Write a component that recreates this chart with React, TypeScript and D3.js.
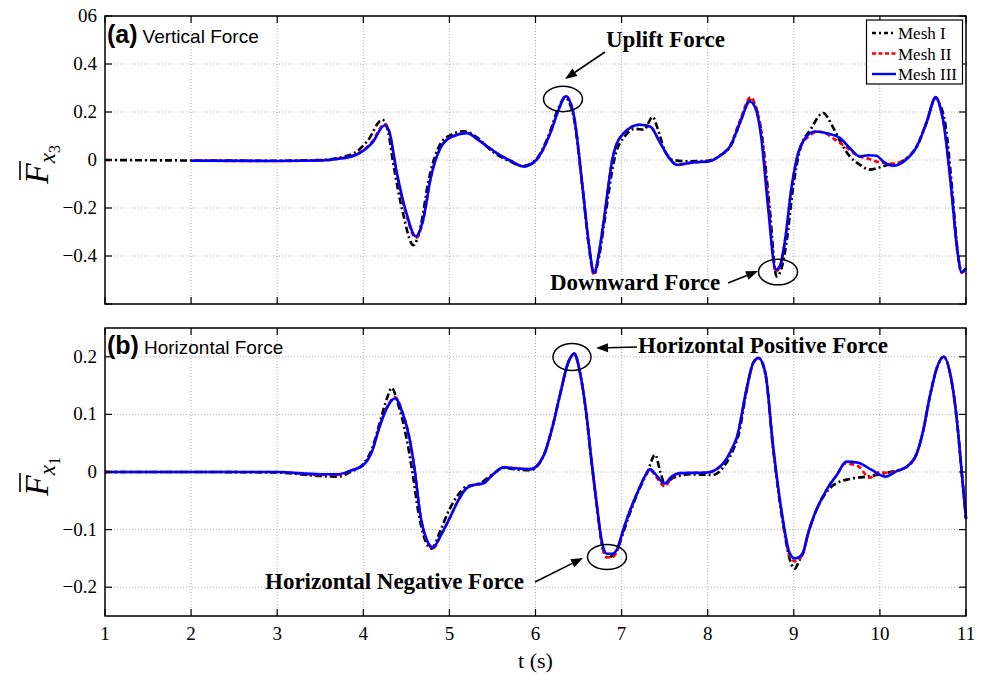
import React from 'react';
import * as d3 from 'd3';

// ---------- data ----------
const xTickValues = [1, 2, 3, 4, 5, 6, 7, 8, 9, 10, 11];
const yTicksA = [-0.6, -0.4, -0.2, 0, 0.2, 0.4, 0.6];
const yTickLabelsA = ['', '\u22120.4', '\u22120.2', '0', '0.2', '0.4', '06'];
const yTicksB = [-0.2, -0.1, 0, 0.1, 0.2];
const yTickLabelsB = ['\u22120.2', '\u22120.1', '0', '0.1', '0.2'];
const seriesNames = ['Mesh I', 'Mesh II', 'Mesh III'];

// Panel (a) vertical force
const vertMeshI: [number, number][] = [
  [1, 0], [2, -0.002], [3, -0.003], [3.5, 0], [3.7, 0.008], [3.9, 0.03], [4.05, 0.08], [4.22, 0.168],
  [4.28, 0.13], [4.36, -0.04], [4.46, -0.22], [4.58, -0.355], [4.67, -0.27], [4.75, -0.1], [4.9, 0.07],
  [5.02, 0.105], [5.17, 0.12], [5.3, 0.1], [5.5, 0.035], [5.7, -0.005], [5.85, -0.025], [6.0, 0.0],
  [6.15, 0.1], [6.27, 0.22], [6.34, 0.26], [6.43, 0.2], [6.55, -0.13], [6.62, -0.36], [6.68, -0.475],
  [6.74, -0.4], [6.8, -0.26], [6.92, 0.01], [7.04, 0.1], [7.16, 0.13], [7.26, 0.126], [7.36, 0.18],
  [7.42, 0.13], [7.5, 0.04], [7.6, 0.0], [7.75, -0.005], [8.0, -0.003], [8.15, 0.02], [8.27, 0.06],
  [8.38, 0.16], [8.49, 0.25], [8.56, 0.22], [8.63, 0.1], [8.72, -0.2], [8.8, -0.485], [8.85, -0.46],
  [8.92, -0.33], [8.99, -0.12], [9.07, 0.04], [9.2, 0.13], [9.34, 0.196], [9.45, 0.14], [9.55, 0.07],
  [9.65, 0.015], [9.77, -0.02], [9.88, -0.04], [10.0, -0.03], [10.1, -0.02], [10.2, -0.015], [10.3, 0.005],
  [10.43, 0.057], [10.54, 0.154], [10.65, 0.26], [10.7, 0.23], [10.76, 0.15], [10.84, -0.124], [10.9, -0.37],
  [10.95, -0.468], [11.0, -0.45],
];
const vertMeshII: [number, number][] = [
  [2.0, -0.003], [3.0, -0.004], [3.5, -0.002], [3.7, 0.005], [3.92, 0.024], [4.1, 0.075], [4.25, 0.15],
  [4.3, 0.12], [4.39, -0.06], [4.5, -0.23], [4.61, -0.325], [4.7, -0.245], [4.78, -0.08], [4.93, 0.07],
  [5.05, 0.1], [5.2, 0.114], [5.35, 0.08], [5.55, 0.029], [5.72, -0.005], [5.86, -0.027], [6.01, 0.0],
  [6.17, 0.11], [6.28, 0.22], [6.35, 0.268], [6.44, 0.196], [6.55, -0.124], [6.62, -0.355], [6.68, -0.48],
  [6.74, -0.385], [6.79, -0.26], [6.9, 0.015], [7.02, 0.11], [7.21, 0.147], [7.33, 0.14], [7.45, 0.07],
  [7.55, 0.01], [7.64, -0.02], [7.83, -0.01], [8.01, -0.006], [8.15, 0.02], [8.26, 0.06], [8.38, 0.17],
  [8.5, 0.262], [8.56, 0.22], [8.63, 0.1], [8.71, -0.2], [8.79, -0.465], [8.84, -0.445], [8.9, -0.33],
  [8.97, -0.124], [9.05, 0.025], [9.13, 0.085], [9.3, 0.118], [9.5, 0.08], [9.62, 0.05], [9.73, 0.02],
  [9.87, 0.005], [10.0, -0.01], [10.155, -0.015], [10.3, 0.005], [10.43, 0.06], [10.54, 0.156],
  [10.65, 0.262], [10.7, 0.22], [10.74, 0.154], [10.83, -0.124], [10.9, -0.38], [10.95, -0.47], [11.0, -0.45],
];
const vertMeshIII: [number, number][] = [
  [2.0, -0.003], [3.0, -0.004], [3.5, -0.002], [3.7, 0.004], [3.92, 0.022], [4.1, 0.07], [4.25, 0.145],
  [4.3, 0.12], [4.39, -0.054], [4.5, -0.22], [4.61, -0.318], [4.7, -0.24], [4.78, -0.08], [4.93, 0.07],
  [5.05, 0.1], [5.2, 0.112], [5.35, 0.08], [5.55, 0.029], [5.72, -0.005], [5.86, -0.027], [6.01, 0.0],
  [6.17, 0.11], [6.28, 0.22], [6.35, 0.265], [6.44, 0.196], [6.55, -0.124], [6.62, -0.35], [6.68, -0.47],
  [6.74, -0.38], [6.79, -0.26], [6.9, 0.015], [7.02, 0.11], [7.21, 0.147], [7.33, 0.14], [7.45, 0.07],
  [7.55, 0.01], [7.64, -0.02], [7.83, -0.01], [8.01, -0.006], [8.15, 0.02], [8.26, 0.057], [8.38, 0.16],
  [8.49, 0.244], [8.55, 0.22], [8.62, 0.1], [8.7, -0.193], [8.79, -0.457], [8.84, -0.44], [8.9, -0.33],
  [8.97, -0.124], [9.05, 0.029], [9.13, 0.09], [9.245, 0.119], [9.4, 0.11], [9.535, 0.092], [9.65, 0.05],
  [9.77, 0.015], [9.87, 0.02], [9.96, 0.018], [10.05, -0.01], [10.155, -0.024], [10.3, 0.0], [10.43, 0.057],
  [10.54, 0.154], [10.65, 0.262], [10.7, 0.22], [10.74, 0.154], [10.83, -0.124], [10.9, -0.38],
  [10.95, -0.468], [11.0, -0.45],
];

// Panel (b) horizontal force
const horzMeshI: [number, number][] = [
  [1, 0], [2, 0], [3, -0.001], [3.5, -0.007], [3.7, -0.008], [3.85, 0.0], [4.0, 0.014], [4.1, 0.04],
  [4.19, 0.085], [4.28, 0.13], [4.33, 0.146], [4.4, 0.12], [4.5, 0.06], [4.57, 0.0], [4.64, -0.07],
  [4.71, -0.115], [4.79, -0.133], [4.9, -0.1], [5.0, -0.065], [5.1, -0.04], [5.2, -0.025], [5.35, -0.02],
  [5.5, -0.004], [5.63, 0.007], [5.8, 0.004], [5.94, 0.003], [6.09, 0.027], [6.2, 0.08], [6.28, 0.131],
  [6.38, 0.19], [6.45, 0.204], [6.52, 0.17], [6.59, 0.1], [6.65, 0.018], [6.71, -0.056], [6.77, -0.125],
  [6.83, -0.148], [6.89, -0.146], [6.94, -0.138], [7.02, -0.105], [7.1, -0.07], [7.2, -0.032], [7.3, 0.0],
  [7.39, 0.03], [7.45, 0.0], [7.5, -0.02], [7.6, -0.01], [7.8, -0.004], [8.06, -0.005], [8.2, 0.012],
  [8.3, 0.04], [8.36, 0.065], [8.45, 0.14], [8.53, 0.19], [8.59, 0.198], [8.67, 0.17], [8.76, 0.04],
  [8.88, -0.095], [8.95, -0.15], [9.01, -0.168], [9.06, -0.155], [9.11, -0.14], [9.16, -0.11], [9.23, -0.078],
  [9.38, -0.035], [9.45, -0.024], [9.65, -0.012], [9.85, -0.008], [10.12, 0.0], [10.31, 0.009],
  [10.43, 0.033], [10.5, 0.07], [10.58, 0.131], [10.66, 0.18], [10.74, 0.2], [10.83, 0.16], [10.89, 0.096],
  [10.95, 0.0], [11.0, -0.081],
];
const horzMeshII: [number, number][] = [
  [1, 0], [2, 0], [3, 0.0], [3.5, -0.005], [3.7, -0.005], [3.85, 0.002], [4.0, 0.012], [4.1, 0.036],
  [4.19, 0.08], [4.3, 0.12], [4.37, 0.13], [4.45, 0.106], [4.54, 0.056], [4.6, 0.0], [4.66, -0.072],
  [4.73, -0.117], [4.81, -0.133], [4.9, -0.11], [5.01, -0.078], [5.1, -0.05], [5.2, -0.028], [5.3, -0.022],
  [5.39, -0.02], [5.5, -0.005], [5.63, 0.008], [5.8, 0.006], [5.94, 0.005], [6.09, 0.027], [6.2, 0.08],
  [6.28, 0.131], [6.38, 0.19], [6.45, 0.205], [6.52, 0.17], [6.59, 0.102], [6.65, 0.02], [6.71, -0.056],
  [6.77, -0.125], [6.83, -0.148], [6.89, -0.148], [6.94, -0.14], [7.02, -0.1], [7.1, -0.066], [7.2, -0.03],
  [7.28, -0.005], [7.33, 0.003], [7.4, -0.008], [7.5, -0.025], [7.58, -0.01], [7.68, -0.002], [7.99, -0.001],
  [8.18, 0.015], [8.28, 0.04], [8.34, 0.061], [8.45, 0.143], [8.53, 0.19], [8.59, 0.198], [8.67, 0.172],
  [8.76, 0.044], [8.88, -0.09], [8.95, -0.145], [9.01, -0.155], [9.06, -0.152], [9.11, -0.14],
  [9.16, -0.11], [9.23, -0.078], [9.38, -0.031], [9.5, -0.005], [9.6, 0.015], [9.75, 0.01], [9.88, -0.01],
  [10.0, 0.0], [10.1, -0.002], [10.2, 0.002], [10.31, 0.009], [10.43, 0.033], [10.5, 0.07], [10.58, 0.131],
  [10.66, 0.18], [10.74, 0.2], [10.83, 0.16], [10.89, 0.096], [10.95, 0.0], [11.0, -0.081],
];
const horzMeshIII: [number, number][] = [
  [1, 0], [2, 0], [3, 0.0], [3.5, -0.004], [3.7, -0.004], [3.85, 0.002], [4.0, 0.012], [4.1, 0.035],
  [4.19, 0.079], [4.3, 0.118], [4.37, 0.128], [4.45, 0.105], [4.54, 0.056], [4.6, 0.0], [4.66, -0.072],
  [4.73, -0.115], [4.81, -0.131], [4.9, -0.11], [5.01, -0.078], [5.1, -0.05], [5.2, -0.028], [5.3, -0.022],
  [5.39, -0.02], [5.5, -0.005], [5.63, 0.008], [5.8, 0.006], [5.94, 0.005], [6.09, 0.027], [6.2, 0.08],
  [6.28, 0.131], [6.38, 0.19], [6.45, 0.206], [6.52, 0.17], [6.59, 0.102], [6.65, 0.02], [6.71, -0.054],
  [6.77, -0.12], [6.83, -0.142], [6.89, -0.142], [6.94, -0.136], [7.02, -0.1], [7.1, -0.066], [7.2, -0.03],
  [7.28, -0.005], [7.33, 0.005], [7.4, -0.005], [7.5, -0.02], [7.58, -0.008], [7.68, -0.002], [7.99, -0.001],
  [8.18, 0.015], [8.28, 0.04], [8.34, 0.061], [8.45, 0.143], [8.53, 0.19], [8.59, 0.198], [8.67, 0.172],
  [8.76, 0.044], [8.88, -0.089], [8.95, -0.14], [9.01, -0.15], [9.06, -0.148], [9.11, -0.139],
  [9.16, -0.11], [9.23, -0.078], [9.38, -0.031], [9.5, -0.005], [9.61, 0.018], [9.75, 0.016], [9.9, 0.004],
  [10.06, -0.008], [10.2, 0.002], [10.31, 0.009], [10.43, 0.033], [10.5, 0.07], [10.58, 0.131],
  [10.66, 0.18], [10.74, 0.2], [10.83, 0.16], [10.89, 0.096], [10.95, 0.0], [11.0, -0.081],
];

// ---------- layout ----------
const W = 987, H = 676;
const X0 = 105, X1 = 966;
const PA = { top: 16, bottom: 304 };
const PB = { top: 328, bottom: 616 };
const SERIF = '"Liberation Serif", "Times New Roman", serif';
const SANS = '"Liberation Sans", Arial, sans-serif';

const styles = [
  { color: '#000000', dash: '7,3,2,3', width: 2.6 },
  { color: '#ff0000', dash: '5,3', width: 2.6 },
  { color: '#0000ff', dash: null as string | null, width: 2.6 },
];

const x = d3.scaleLinear().domain([1, 11]).range([X0, X1]);
const yA = d3.scaleLinear().domain([-0.6, 0.6]).range([PA.bottom, PA.top]);
const yB = d3.scaleLinear().domain([-0.25, 0.25]).range([PB.bottom, PB.top]);

function Arrow({ x1, y1, x2, y2 }: { x1: number; y1: number; x2: number; y2: number }) {
  const ang = Math.atan2(y2 - y1, x2 - x1);
  const L = 12, Wd = 4.5;
  const bx = x2 - L * Math.cos(ang), by = y2 - L * Math.sin(ang);
  const px = -Math.sin(ang) * Wd, py = Math.cos(ang) * Wd;
  return (
    <g>
      <line x1={x1} y1={y1} x2={bx} y2={by} stroke="#000" strokeWidth={1.6} />
      <polygon points={`${x2},${y2} ${bx + px},${by + py} ${bx - px},${by - py}`} fill="#000" />
    </g>
  );
}

function Panel({ y, ticks, labels, series, title, subtitle, sub, titleY }: any) {
  const [top, bottom] = [y.range()[1], y.range()[0]];
  const line = d3.line<[number, number]>().x(d => x(d[0])).y(d => y(d[1])).curve(d3.curveMonotoneX);
  const labelCenter = (top + bottom) / 2 - 10;
  return (
    <g>
      <defs>
        <clipPath id={`clip-${title}`}>
          <rect x={X0} y={top} width={X1 - X0} height={bottom - top} />
        </clipPath>
      </defs>
      {/* grid */}
      {xTickValues.slice(1, -1).map(t => (
        <line key={'gx' + t} x1={x(t)} x2={x(t)} y1={top} y2={bottom} stroke="#b0b0b0" strokeWidth={1} strokeDasharray="1,2" />
      ))}
      {ticks.map((t: number) => (
        <line key={'gy' + t} x1={X0} x2={X1} y1={y(t)} y2={y(t)} stroke="#b0b0b0" strokeWidth={1} strokeDasharray="1,2" />
      ))}
      {/* curves */}
      <g clipPath={`url(#clip-${title})`}>
        {series.map((s: [number, number][], i: number) => (
          <path key={i} d={line(s) || ''} fill="none" stroke={styles[i].color} strokeWidth={styles[i].width}
            strokeDasharray={styles[i].dash || undefined} strokeLinejoin="round" />
        ))}
      </g>
      {/* frame */}
      <rect x={X0} y={top} width={X1 - X0} height={bottom - top} fill="none" stroke="#000" strokeWidth={1.5} />
      {/* ticks */}
      {xTickValues.map(t => (
        <g key={'tx' + t}>
          <line x1={x(t)} x2={x(t)} y1={bottom} y2={bottom - 7} stroke="#000" strokeWidth={1.2} />
          <line x1={x(t)} x2={x(t)} y1={top} y2={top + 7} stroke="#000" strokeWidth={1.2} />
        </g>
      ))}
      {ticks.map((t: number, i: number) => (
        <g key={'ty' + t}>
          <line x1={X0} x2={X0 + 7} y1={y(t)} y2={y(t)} stroke="#000" strokeWidth={1.2} />
          <line x1={X1} x2={X1 - 7} y1={y(t)} y2={y(t)} stroke="#000" strokeWidth={1.2} />
          <text x={X0 - 8} y={y(t) + 6} textAnchor="end" fontFamily={SERIF} fontSize={19}>{labels[i]}</text>
        </g>
      ))}
      {/* title */}
      <text x={107} y={titleY} fontFamily={SANS}>
        <tspan fontWeight="bold" fontSize={25}>{title}</tspan>
        <tspan fontSize={19} dx={5}>{subtitle}</tspan>
      </text>
      {/* y label */}
      <g transform={`translate(48,${labelCenter + 34}) rotate(-90)`}>
        <text x={0} y={0} fontFamily={SERIF} fontStyle="italic">
          <tspan fontSize={34}>F</tspan>
          <tspan fontSize={23} dy={7}>x</tspan>
          <tspan fontSize={16} fontStyle="normal" dy={5}>{sub}</tspan>
        </text>
        <line x1={4} x2={23} y1={-28} y2={-28} stroke="#000" strokeWidth={1.6} />
      </g>
    </g>
  );
}

export default function App() {
  return (
    <svg width={W} height={H} style={{ position: 'absolute', left: 0, top: 0, background: '#fff' }}>
      <rect x={0} y={0} width={W} height={H} fill="#fff" />
      <Panel y={yA} ticks={yTicksA} labels={yTickLabelsA} series={[vertMeshI, vertMeshII, vertMeshIII]}
        title="(a)" subtitle="Vertical Force" sub="3" titleY={43} />
      <Panel y={yB} ticks={yTicksB} labels={yTickLabelsB} series={[horzMeshI, horzMeshII, horzMeshIII]}
        title="(b)" subtitle="Horizontal Force" sub="1" titleY={354} />

      {/* x tick labels */}
      {xTickValues.map(t => (
        <text key={'xl' + t} x={x(t)} y={640} textAnchor="middle" fontFamily={SERIF} fontSize={19}>{t}</text>
      ))}
      <text x={(X0 + X1) / 2} y={668} textAnchor="middle" fontFamily={SERIF} fontSize={22}>t (s)</text>

      {/* legend */}
      <g>
        <rect x={866.5} y={20} width={96} height={64} fill="#fff" stroke="#000" strokeWidth={1.2} />
        {seriesNames.map((n, i) => (
          <g key={n} transform={`translate(0,${33 + i * 20.5})`}>
            <line x1={872} x2={896} y1={0} y2={0} stroke={styles[i].color} strokeWidth={2.4}
              strokeDasharray={i === 0 ? '4,3,2,3' : i === 1 ? '4,2.5' : undefined} />
            <text x={898} y={6} fontFamily={SERIF} fontSize={17}>{n}</text>
          </g>
        ))}
      </g>

      {/* annotations */}
      <g fontFamily={SERIF} fontWeight="bold" fontSize={23}>
        <text x={606} y={47}>Uplift Force</text>
        <text x={550} y={290}>Downward Force</text>
        <text x={638} y={353}>Horizontal Positive Force</text>
        <text x={265} y={589}>Horizontal Negative Force</text>
      </g>
      <g fill="none" stroke="#000" strokeWidth={1.5}>
        <ellipse cx={563} cy={99} rx={19.5} ry={12.7} />
        <ellipse cx={778} cy={272} rx={19.5} ry={12.8} />
        <ellipse cx={572} cy={357} rx={19} ry={13.5} />
        <ellipse cx={607} cy={557} rx={19.5} ry={12.5} />
      </g>
      <Arrow x1={605} y1={52} x2={565} y2={79} />
      <Arrow x1={728} y1={283} x2={758} y2={271} />
      <Arrow x1={637} y1={347} x2={596} y2={348} />
      <Arrow x1={535} y1={582} x2={583} y2={558} />
    </svg>
  );
}
